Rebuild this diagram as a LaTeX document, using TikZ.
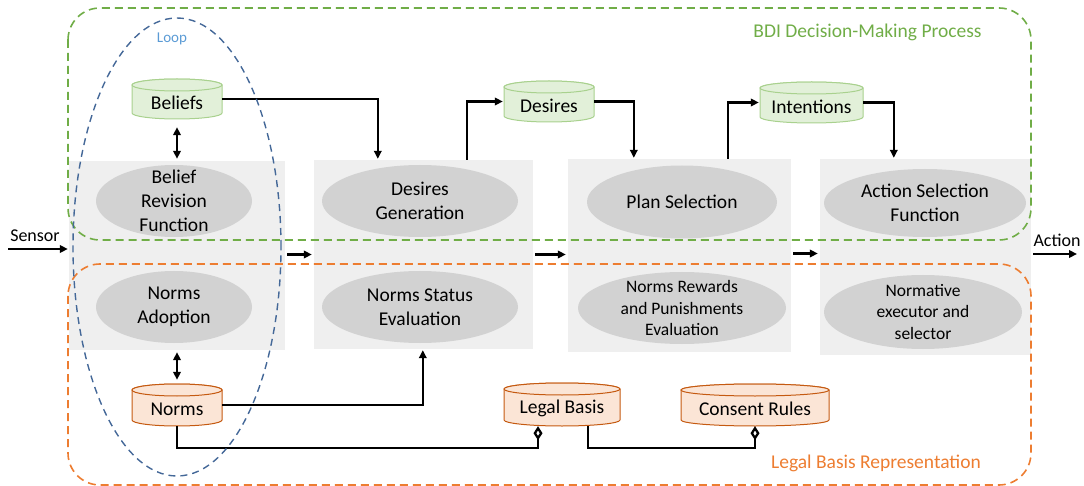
\documentclass[tikz,border=0pt]{standalone}
\usepackage{fontspec}
\setmainfont{Carlito}
\usetikzlibrary{arrows.meta,shapes.geometric,calc}
\definecolor{panelgray}{RGB}{239,239,239}
\definecolor{ellgray}{RGB}{210,210,210}
\definecolor{bdigreen}{RGB}{112,173,71}
\definecolor{lborange}{RGB}{237,125,49}
\definecolor{cylgreenfill}{RGB}{226,240,217}
\definecolor{cylgreendraw}{RGB}{169,209,142}
\definecolor{cylorangefill}{RGB}{251,229,214}
\definecolor{cylorangedraw}{RGB}{197,90,17}
\definecolor{loopblue}{RGB}{68,104,152}
\definecolor{looptext}{RGB}{91,155,213}
\newcommand\fsz[2]{\fontsize{#1}{#2}\selectfont}
\newcommand\mycyl[7]{%
  \path[#6] (#2-#4,-#3+#5-6) -- (#2-#4,-#3-#5+6)
     arc[start angle=180,end angle=360,x radius=#4,y radius=6]
     -- (#2+#4,-#3+#5-6)
     arc[start angle=0,end angle=180,x radius=#4,y radius=6] -- cycle;
  \path[#6] (#2,-#3+#5-6) ellipse[x radius=#4,y radius=6];
  \node[cyltext,minimum width=2*#4,minimum height=2*#5] (#1) at (#2,-#3-4) {#7};
}
\tikzset{
  panel/.style={rectangle,fill=panelgray,draw=none,inner sep=0pt},
  proc/.style={ellipse,fill=ellgray,draw=none,inner sep=0pt},
  lbl/.style={align=center,font=\fsz{19.5}{24}},
  smalllbl/.style={align=center,font=\fsz{17.5}{21.5}},
  cyltext/.style={rectangle,inner sep=0pt,font=\fsz{19.5}{24}},
  greencyl/.style={fill=cylgreenfill,draw=cylgreendraw,line width=1pt},
  orangecyl/.style={fill=cylorangefill,draw=cylorangedraw,line width=1pt},
  arr/.style={line width=2.3pt,-{Triangle[length=8pt,width=7.5pt]},shorten >=1pt},
  darr/.style={line width=2.3pt,{Triangle[length=8pt,width=7.5pt]}-{Triangle[length=8pt,width=7.5pt]},shorten >=2pt,shorten <=2pt},
  dia/.style={line width=2.3pt,-{Diamond[open,length=14pt,width=9pt]}},
  dashbox/.style={line width=1.6pt,dash pattern=on 8pt off 5pt,rounded corners=32pt},
}
\begin{document}
\begin{tikzpicture}[x=1pt,y=1pt]
\useasboundingbox (0,0) rectangle (1084,-486);

% panels
\node[panel,minimum width=216,minimum height=189] (p1) at (177,-255.5) {};
\node[panel,minimum width=219,minimum height=189] (p2) at (423.5,-254.5) {};
\node[panel,minimum width=223,minimum height=193] (p3) at (679.5,-255.5) {};
\node[panel,minimum width=211,minimum height=196] (p4) at (925.5,-257) {};

% process ellipses
\node[proc,minimum width=156,minimum height=72,label={[lbl]center:Belief\\Revision\\Function}] (brf) at (174,-201) {};
\node[proc,minimum width=156,minimum height=72,label={[lbl]center:Norms\\Adoption}] (nad) at (174,-307) {};
\node[proc,minimum width=196,minimum height=72,label={[lbl]center:Desires\\Generation}] (dgen) at (420,-201) {};
\node[proc,minimum width=196,minimum height=72,label={[lbl]center:Norms Status\\Evaluation}] (nse) at (420,-307) {};
\node[proc,minimum width=190,minimum height=73,label={[lbl]center:Plan Selection}] (plan) at (682,-202) {};
\node[proc,minimum width=208,minimum height=72,label={[smalllbl]center:Norms Rewards\\and Punishments\\Evaluation}] (nrpe) at (682,-308) {};
\node[proc,minimum width=202,minimum height=68,label={[lbl]center:Action Selection\\Function}] (asf) at (925,-203) {};
\node[proc,minimum width=198,minimum height=74,label={[smalllbl]center:Normative\\executor and\\selector}] (nes) at (923,-312) {};

% cylinders
\mycyl{beliefs}{177}{99}{45}{20}{greencyl}{Beliefs}
\mycyl{desires}{549}{101.5}{45}{20.5}{greencyl}{Desires}
\mycyl{intentions}{811.5}{102.5}{51.5}{20.5}{greencyl}{Intentions}
\mycyl{norms}{177}{405}{45}{21}{orangecyl}{Norms}
\mycyl{legal}{562}{404.5}{58}{21.5}{orangecyl}{Legal Basis}
\mycyl{consent}{755}{405}{74}{21}{orangecyl}{Consent Rules}

% top connectors
\draw[arr] ($(beliefs.east)+(0,4)$) -| ($(p2.north west)+(64,0)$);
\draw[arr] ($(p2.north west)+(153,0)$) |- ($(desires.west)+(0,4)$);
\draw[arr] ($(desires.east)+(0,4)$) -| ($(p3.north west)+(66,0)$);
\draw[arr] ($(p3.north west)+(160,0)$) |- ($(intentions.west)+(0,4)$);
\draw[arr] ($(intentions.east)+(0,4)$) -| ($(p4.north west)+(74,0)$);
\draw[darr] ($(beliefs.south)+(0,-2)$) -- (beliefs.south |- p1.north);
\draw[darr] ($(norms.north)+(0,6)$) -- (norms.north |- p1.south);

% flow between columns
\coordinate (sensor) at (8,-249);
\coordinate (action) at (1078,-254);
\draw[arr] (sensor) -- (sensor -| p1.west);
\draw[arr] ($(p1.east |- p2.west)+(2,0)$) -- ($(p2.west)+(-1,0)$);
\draw[arr] ($(p2.east)+(2,0)$) -- ($(p2.east -| p3.west)+(-1,0)$);
\draw[arr] ($(p3.east)+(2,2)$) -- ($(p3.east -| p4.west)+(-1,2)$);
\draw[arr] ($(p4.east |- action)+(2,0)$) -- (action);
\node[font=\fsz{18}{22}] (sensorlbl) at (35,-236) {Sensor};
\node[font=\fsz{18}{22}] (actionlbl) at (1057,-240) {Action};

% bottom connectors
\draw[arr] ($(norms.east)+(0,4)$) -| ($(p2.south west)+(109,0)$);
\draw[dia] ($(norms.south)+(0,4)$) -- ++(0,-22) -| ($(legal.south)+(-24,4)$);
\draw[dia] ($(legal.south)+(26,4)$) -- ++(0,-22) -| ($(consent.south)+(0,4)$);

% dashed groups
\draw[dashbox,draw=bdigreen] (68,-8) rectangle (1031,-240);
\draw[dashbox,draw=lborange] (68,-264) rectangle (1031,-485);
\node[text=bdigreen,font=\fsz{19.5}{24}] (bdilbl) at (867.5,-32) {BDI Decision-Making Process};
\node[text=lborange,font=\fsz{19.5}{24}] (lbrlbl) at (876,-463) {Legal Basis Representation};

% loop
\draw[loopblue,line width=1.4pt,dash pattern=on 7pt off 5pt] (177,-247) ellipse[x radius=104,y radius=229];
\node[text=looptext,font=\fsz{15}{18}] (looplbl) at (172,-39) {Loop};
\end{tikzpicture}
\end{document}
